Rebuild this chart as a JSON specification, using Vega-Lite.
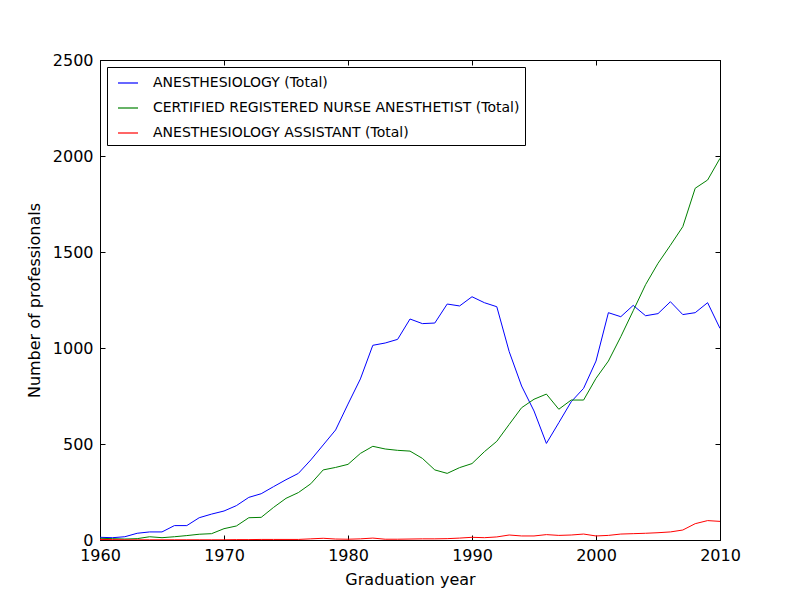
{
  "$schema": "https://vega.github.io/schema/vega-lite/v6.json",
  "width": 620,
  "height": 480,
  "autosize": {"type": "none"},
  "padding": {"left": 100, "top": 60, "right": 80, "bottom": 60},
  "background": "white",
  "config": {
    "font": "DejaVu Sans",
    "view": {"stroke": "black", "strokeWidth": 1},
    "axis": {
      "grid": false,
      "domainColor": "black",
      "tickColor": "black",
      "labelColor": "black",
      "titleColor": "black",
      "labelFont": "DejaVu Sans",
      "titleFont": "DejaVu Sans",
      "labelFontSize": 16,
      "titleFontSize": 16,
      "titleFontWeight": "normal",
      "tickSize": -5,
      "labelPadding": 12
    }
  },
  "data": {
    "values": [
      {"year":1960,"type":"ANESTHESIOLOGY (Total)","n":14},
      {"year":1961,"type":"ANESTHESIOLOGY (Total)","n":12},
      {"year":1962,"type":"ANESTHESIOLOGY (Total)","n":17},
      {"year":1963,"type":"ANESTHESIOLOGY (Total)","n":35},
      {"year":1964,"type":"ANESTHESIOLOGY (Total)","n":42},
      {"year":1965,"type":"ANESTHESIOLOGY (Total)","n":42},
      {"year":1966,"type":"ANESTHESIOLOGY (Total)","n":75},
      {"year":1967,"type":"ANESTHESIOLOGY (Total)","n":75},
      {"year":1968,"type":"ANESTHESIOLOGY (Total)","n":116},
      {"year":1969,"type":"ANESTHESIOLOGY (Total)","n":135},
      {"year":1970,"type":"ANESTHESIOLOGY (Total)","n":151},
      {"year":1971,"type":"ANESTHESIOLOGY (Total)","n":179},
      {"year":1972,"type":"ANESTHESIOLOGY (Total)","n":222},
      {"year":1973,"type":"ANESTHESIOLOGY (Total)","n":241},
      {"year":1974,"type":"ANESTHESIOLOGY (Total)","n":278},
      {"year":1975,"type":"ANESTHESIOLOGY (Total)","n":314},
      {"year":1976,"type":"ANESTHESIOLOGY (Total)","n":347},
      {"year":1977,"type":"ANESTHESIOLOGY (Total)","n":417},
      {"year":1978,"type":"ANESTHESIOLOGY (Total)","n":495},
      {"year":1979,"type":"ANESTHESIOLOGY (Total)","n":573},
      {"year":1980,"type":"ANESTHESIOLOGY (Total)","n":708},
      {"year":1981,"type":"ANESTHESIOLOGY (Total)","n":839},
      {"year":1982,"type":"ANESTHESIOLOGY (Total)","n":1014},
      {"year":1983,"type":"ANESTHESIOLOGY (Total)","n":1026},
      {"year":1984,"type":"ANESTHESIOLOGY (Total)","n":1045},
      {"year":1985,"type":"ANESTHESIOLOGY (Total)","n":1151},
      {"year":1986,"type":"ANESTHESIOLOGY (Total)","n":1127},
      {"year":1987,"type":"ANESTHESIOLOGY (Total)","n":1130},
      {"year":1988,"type":"ANESTHESIOLOGY (Total)","n":1229},
      {"year":1989,"type":"ANESTHESIOLOGY (Total)","n":1219},
      {"year":1990,"type":"ANESTHESIOLOGY (Total)","n":1267},
      {"year":1991,"type":"ANESTHESIOLOGY (Total)","n":1236},
      {"year":1992,"type":"ANESTHESIOLOGY (Total)","n":1215},
      {"year":1993,"type":"ANESTHESIOLOGY (Total)","n":981},
      {"year":1994,"type":"ANESTHESIOLOGY (Total)","n":802},
      {"year":1995,"type":"ANESTHESIOLOGY (Total)","n":672},
      {"year":1996,"type":"ANESTHESIOLOGY (Total)","n":503},
      {"year":1997,"type":"ANESTHESIOLOGY (Total)","n":611},
      {"year":1998,"type":"ANESTHESIOLOGY (Total)","n":720},
      {"year":1999,"type":"ANESTHESIOLOGY (Total)","n":790},
      {"year":2000,"type":"ANESTHESIOLOGY (Total)","n":932},
      {"year":2001,"type":"ANESTHESIOLOGY (Total)","n":1184},
      {"year":2002,"type":"ANESTHESIOLOGY (Total)","n":1163},
      {"year":2003,"type":"ANESTHESIOLOGY (Total)","n":1222},
      {"year":2004,"type":"ANESTHESIOLOGY (Total)","n":1168},
      {"year":2005,"type":"ANESTHESIOLOGY (Total)","n":1179},
      {"year":2006,"type":"ANESTHESIOLOGY (Total)","n":1241},
      {"year":2007,"type":"ANESTHESIOLOGY (Total)","n":1174},
      {"year":2008,"type":"ANESTHESIOLOGY (Total)","n":1184},
      {"year":2009,"type":"ANESTHESIOLOGY (Total)","n":1236},
      {"year":2010,"type":"ANESTHESIOLOGY (Total)","n":1102},
      {"year":1960,"type":"CERTIFIED REGISTERED NURSE ANESTHETIST (Total)","n":9},
      {"year":1961,"type":"CERTIFIED REGISTERED NURSE ANESTHETIST (Total)","n":7},
      {"year":1962,"type":"CERTIFIED REGISTERED NURSE ANESTHETIST (Total)","n":5},
      {"year":1963,"type":"CERTIFIED REGISTERED NURSE ANESTHETIST (Total)","n":7},
      {"year":1964,"type":"CERTIFIED REGISTERED NURSE ANESTHETIST (Total)","n":17},
      {"year":1965,"type":"CERTIFIED REGISTERED NURSE ANESTHETIST (Total)","n":12},
      {"year":1966,"type":"CERTIFIED REGISTERED NURSE ANESTHETIST (Total)","n":17},
      {"year":1967,"type":"CERTIFIED REGISTERED NURSE ANESTHETIST (Total)","n":23},
      {"year":1968,"type":"CERTIFIED REGISTERED NURSE ANESTHETIST (Total)","n":30},
      {"year":1969,"type":"CERTIFIED REGISTERED NURSE ANESTHETIST (Total)","n":33},
      {"year":1970,"type":"CERTIFIED REGISTERED NURSE ANESTHETIST (Total)","n":59},
      {"year":1971,"type":"CERTIFIED REGISTERED NURSE ANESTHETIST (Total)","n":73},
      {"year":1972,"type":"CERTIFIED REGISTERED NURSE ANESTHETIST (Total)","n":116},
      {"year":1973,"type":"CERTIFIED REGISTERED NURSE ANESTHETIST (Total)","n":118},
      {"year":1974,"type":"CERTIFIED REGISTERED NURSE ANESTHETIST (Total)","n":170},
      {"year":1975,"type":"CERTIFIED REGISTERED NURSE ANESTHETIST (Total)","n":217},
      {"year":1976,"type":"CERTIFIED REGISTERED NURSE ANESTHETIST (Total)","n":247},
      {"year":1977,"type":"CERTIFIED REGISTERED NURSE ANESTHETIST (Total)","n":293},
      {"year":1978,"type":"CERTIFIED REGISTERED NURSE ANESTHETIST (Total)","n":365},
      {"year":1979,"type":"CERTIFIED REGISTERED NURSE ANESTHETIST (Total)","n":378},
      {"year":1980,"type":"CERTIFIED REGISTERED NURSE ANESTHETIST (Total)","n":394},
      {"year":1981,"type":"CERTIFIED REGISTERED NURSE ANESTHETIST (Total)","n":451},
      {"year":1982,"type":"CERTIFIED REGISTERED NURSE ANESTHETIST (Total)","n":488},
      {"year":1983,"type":"CERTIFIED REGISTERED NURSE ANESTHETIST (Total)","n":474},
      {"year":1984,"type":"CERTIFIED REGISTERED NURSE ANESTHETIST (Total)","n":467},
      {"year":1985,"type":"CERTIFIED REGISTERED NURSE ANESTHETIST (Total)","n":463},
      {"year":1986,"type":"CERTIFIED REGISTERED NURSE ANESTHETIST (Total)","n":425},
      {"year":1987,"type":"CERTIFIED REGISTERED NURSE ANESTHETIST (Total)","n":365},
      {"year":1988,"type":"CERTIFIED REGISTERED NURSE ANESTHETIST (Total)","n":347},
      {"year":1989,"type":"CERTIFIED REGISTERED NURSE ANESTHETIST (Total)","n":377},
      {"year":1990,"type":"CERTIFIED REGISTERED NURSE ANESTHETIST (Total)","n":398},
      {"year":1991,"type":"CERTIFIED REGISTERED NURSE ANESTHETIST (Total)","n":460},
      {"year":1992,"type":"CERTIFIED REGISTERED NURSE ANESTHETIST (Total)","n":514},
      {"year":1993,"type":"CERTIFIED REGISTERED NURSE ANESTHETIST (Total)","n":602},
      {"year":1994,"type":"CERTIFIED REGISTERED NURSE ANESTHETIST (Total)","n":689},
      {"year":1995,"type":"CERTIFIED REGISTERED NURSE ANESTHETIST (Total)","n":733},
      {"year":1996,"type":"CERTIFIED REGISTERED NURSE ANESTHETIST (Total)","n":760},
      {"year":1997,"type":"CERTIFIED REGISTERED NURSE ANESTHETIST (Total)","n":681},
      {"year":1998,"type":"CERTIFIED REGISTERED NURSE ANESTHETIST (Total)","n":729},
      {"year":1999,"type":"CERTIFIED REGISTERED NURSE ANESTHETIST (Total)","n":729},
      {"year":2000,"type":"CERTIFIED REGISTERED NURSE ANESTHETIST (Total)","n":842},
      {"year":2001,"type":"CERTIFIED REGISTERED NURSE ANESTHETIST (Total)","n":932},
      {"year":2002,"type":"CERTIFIED REGISTERED NURSE ANESTHETIST (Total)","n":1059},
      {"year":2003,"type":"CERTIFIED REGISTERED NURSE ANESTHETIST (Total)","n":1194},
      {"year":2004,"type":"CERTIFIED REGISTERED NURSE ANESTHETIST (Total)","n":1330},
      {"year":2005,"type":"CERTIFIED REGISTERED NURSE ANESTHETIST (Total)","n":1441},
      {"year":2006,"type":"CERTIFIED REGISTERED NURSE ANESTHETIST (Total)","n":1535},
      {"year":2007,"type":"CERTIFIED REGISTERED NURSE ANESTHETIST (Total)","n":1632},
      {"year":2008,"type":"CERTIFIED REGISTERED NURSE ANESTHETIST (Total)","n":1832},
      {"year":2009,"type":"CERTIFIED REGISTERED NURSE ANESTHETIST (Total)","n":1875},
      {"year":2010,"type":"CERTIFIED REGISTERED NURSE ANESTHETIST (Total)","n":1988},
      {"year":1960,"type":"ANESTHESIOLOGY ASSISTANT (Total)","n":3},
      {"year":1961,"type":"ANESTHESIOLOGY ASSISTANT (Total)","n":2},
      {"year":1962,"type":"ANESTHESIOLOGY ASSISTANT (Total)","n":1},
      {"year":1963,"type":"ANESTHESIOLOGY ASSISTANT (Total)","n":1},
      {"year":1964,"type":"ANESTHESIOLOGY ASSISTANT (Total)","n":1},
      {"year":1965,"type":"ANESTHESIOLOGY ASSISTANT (Total)","n":1},
      {"year":1966,"type":"ANESTHESIOLOGY ASSISTANT (Total)","n":1},
      {"year":1967,"type":"ANESTHESIOLOGY ASSISTANT (Total)","n":1},
      {"year":1968,"type":"ANESTHESIOLOGY ASSISTANT (Total)","n":1},
      {"year":1969,"type":"ANESTHESIOLOGY ASSISTANT (Total)","n":1},
      {"year":1970,"type":"ANESTHESIOLOGY ASSISTANT (Total)","n":1},
      {"year":1971,"type":"ANESTHESIOLOGY ASSISTANT (Total)","n":2},
      {"year":1972,"type":"ANESTHESIOLOGY ASSISTANT (Total)","n":2},
      {"year":1973,"type":"ANESTHESIOLOGY ASSISTANT (Total)","n":3},
      {"year":1974,"type":"ANESTHESIOLOGY ASSISTANT (Total)","n":3},
      {"year":1975,"type":"ANESTHESIOLOGY ASSISTANT (Total)","n":3},
      {"year":1976,"type":"ANESTHESIOLOGY ASSISTANT (Total)","n":3},
      {"year":1977,"type":"ANESTHESIOLOGY ASSISTANT (Total)","n":6},
      {"year":1978,"type":"ANESTHESIOLOGY ASSISTANT (Total)","n":9},
      {"year":1979,"type":"ANESTHESIOLOGY ASSISTANT (Total)","n":5},
      {"year":1980,"type":"ANESTHESIOLOGY ASSISTANT (Total)","n":4},
      {"year":1981,"type":"ANESTHESIOLOGY ASSISTANT (Total)","n":6},
      {"year":1982,"type":"ANESTHESIOLOGY ASSISTANT (Total)","n":10},
      {"year":1983,"type":"ANESTHESIOLOGY ASSISTANT (Total)","n":4},
      {"year":1984,"type":"ANESTHESIOLOGY ASSISTANT (Total)","n":4},
      {"year":1985,"type":"ANESTHESIOLOGY ASSISTANT (Total)","n":5},
      {"year":1986,"type":"ANESTHESIOLOGY ASSISTANT (Total)","n":6},
      {"year":1987,"type":"ANESTHESIOLOGY ASSISTANT (Total)","n":6},
      {"year":1988,"type":"ANESTHESIOLOGY ASSISTANT (Total)","n":7},
      {"year":1989,"type":"ANESTHESIOLOGY ASSISTANT (Total)","n":10},
      {"year":1990,"type":"ANESTHESIOLOGY ASSISTANT (Total)","n":14},
      {"year":1991,"type":"ANESTHESIOLOGY ASSISTANT (Total)","n":12},
      {"year":1992,"type":"ANESTHESIOLOGY ASSISTANT (Total)","n":16},
      {"year":1993,"type":"ANESTHESIOLOGY ASSISTANT (Total)","n":26},
      {"year":1994,"type":"ANESTHESIOLOGY ASSISTANT (Total)","n":21},
      {"year":1995,"type":"ANESTHESIOLOGY ASSISTANT (Total)","n":21},
      {"year":1996,"type":"ANESTHESIOLOGY ASSISTANT (Total)","n":28},
      {"year":1997,"type":"ANESTHESIOLOGY ASSISTANT (Total)","n":24},
      {"year":1998,"type":"ANESTHESIOLOGY ASSISTANT (Total)","n":26},
      {"year":1999,"type":"ANESTHESIOLOGY ASSISTANT (Total)","n":31},
      {"year":2000,"type":"ANESTHESIOLOGY ASSISTANT (Total)","n":21},
      {"year":2001,"type":"ANESTHESIOLOGY ASSISTANT (Total)","n":24},
      {"year":2002,"type":"ANESTHESIOLOGY ASSISTANT (Total)","n":31},
      {"year":2003,"type":"ANESTHESIOLOGY ASSISTANT (Total)","n":33},
      {"year":2004,"type":"ANESTHESIOLOGY ASSISTANT (Total)","n":35},
      {"year":2005,"type":"ANESTHESIOLOGY ASSISTANT (Total)","n":38},
      {"year":2006,"type":"ANESTHESIOLOGY ASSISTANT (Total)","n":42},
      {"year":2007,"type":"ANESTHESIOLOGY ASSISTANT (Total)","n":52},
      {"year":2008,"type":"ANESTHESIOLOGY ASSISTANT (Total)","n":85},
      {"year":2009,"type":"ANESTHESIOLOGY ASSISTANT (Total)","n":101},
      {"year":2010,"type":"ANESTHESIOLOGY ASSISTANT (Total)","n":97}
    ]
  },
  "layer": [
    {
      "mark": {"type": "line", "strokeWidth": 1, "clip": true},
      "encoding": {
        "x": {
          "field": "year", "type": "quantitative",
          "scale": {"domain": [1960, 2010], "nice": false, "zero": false},
          "axis": {"orient": "bottom", "values": [1960, 1970, 1980, 1990, 2000, 2010], "format": "d", "title": "Graduation year", "titlePadding": 8, "labelFlush": false}
        },
        "y": {
          "field": "n", "type": "quantitative",
          "scale": {"domain": [0, 2500], "nice": false},
          "axis": {"orient": "left", "values": [0, 500, 1000, 1500, 2000, 2500], "format": "d", "title": "Number of professionals", "titlePadding": 10, "labelFlush": false}
        },
        "color": {
          "field": "type", "type": "nominal",
          "scale": {
            "domain": ["ANESTHESIOLOGY (Total)", "CERTIFIED REGISTERED NURSE ANESTHETIST (Total)", "ANESTHESIOLOGY ASSISTANT (Total)"],
            "range": ["#0000ff", "#008000", "#ff0000"]
          },
          "legend": {
            "title": null,
            "orient": "none",
            "legendX": 7,
            "legendY": 7,
            "symbolType": "stroke",
            "symbolSize": 400,
            "symbolStrokeWidth": 1.2,
            "symbolOffset": 5,
            "labelOffset": 14,
            "labelFont": "DejaVu Sans",
            "labelFontSize": 14,
            "labelColor": "black",
            "labelLimit": 600,
            "rowPadding": 7,
            "padding": 5,
            "fillColor": "white",
            "strokeColor": "black"
          }
        }
      }
    },
    {
      "mark": {"type": "line", "strokeOpacity": 0},
      "encoding": {
        "x": {
          "field": "year", "type": "quantitative",
          "axis": {"orient": "top", "values": [1960, 1970, 1980, 1990, 2000, 2010], "labels": false, "title": null}
        },
        "y": {
          "field": "n", "type": "quantitative",
          "axis": {"orient": "right", "values": [0, 500, 1000, 1500, 2000, 2500], "labels": false, "title": null}
        },
        "detail": {"field": "type", "type": "nominal"}
      }
    }
  ],
  "resolve": {"axis": {"x": "independent", "y": "independent"}}
}
